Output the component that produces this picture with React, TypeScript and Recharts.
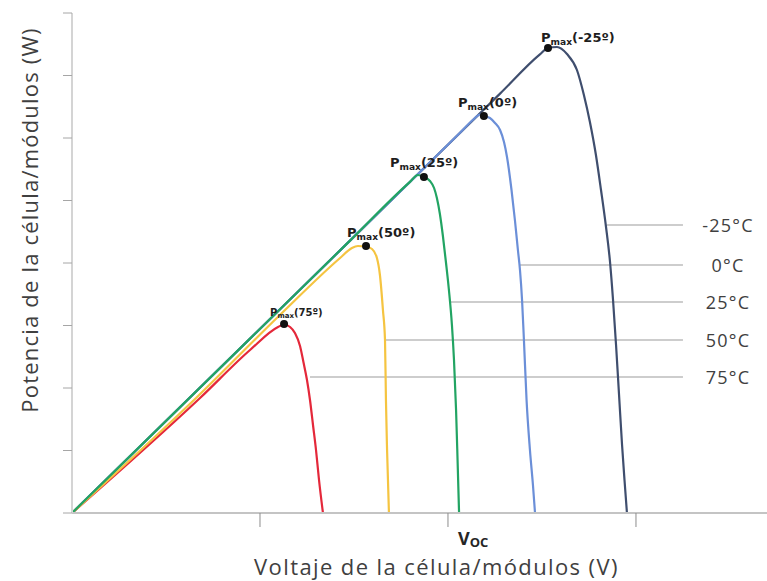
import React from 'react';
import { LineChart, Line, XAxis, YAxis, ReferenceLine, ReferenceDot } from 'recharts';

// Voltage (V, axis units) and power (W, axis units)
const voltM25 = [0, 1.479, 2.277, 2.489, 2.532, 2.58, 2.633, 2.686, 2.723, 2.755, 2.787, 2.814, 2.84, 2.862, 2.878, 2.894, 2.91, 2.926, 2.939, 2.952];
const powerM25 = [0, 4.358, 6.71, 7.338, 7.44, 7.456, 7.344, 7.088, 6.688, 6.256, 5.728, 5.168, 4.592, 4.016, 3.408, 2.688, 1.888, 1.088, 0.528, 0];

const volt0 = [0, 1.479, 2.064, 2.138, 2.17, 2.191, 2.223, 2.25, 2.277, 2.298, 2.314, 2.338, 2.356, 2.372, 2.383, 2.394, 2.404, 2.418, 2.436, 2.452, 2.463];
const power0 = [0, 4.358, 6.083, 6.304, 6.376, 6.352, 6.32, 6.24, 6.128, 5.936, 5.696, 5.168, 4.688, 4.208, 3.888, 3.408, 2.768, 1.808, 1.008, 0.448, 0];

const volt25 = [0, 0.947, 1.479, 1.798, 1.84, 1.872, 1.904, 1.926, 1.941, 1.957, 1.973, 1.989, 2.005, 2.021, 2.032, 2.043, 2.051, 2.059];
const power25 = [0, 2.79, 4.358, 5.299, 5.408, 5.376, 5.312, 5.2, 5.04, 4.784, 4.432, 4.016, 3.568, 3.008, 2.448, 1.648, 0.848, 0];

const volt50 = [0, 0.66, 1.106, 1.426, 1.489, 1.521, 1.564, 1.596, 1.622, 1.638, 1.654, 1.665, 1.67, 1.676, 1.686];
const power50 = [0, 1.84, 3.168, 4.08, 4.24, 4.272, 4.264, 4.224, 4.08, 3.808, 3.248, 2.768, 1.808, 1.008, 0];

const volt75 = [0, 0.681, 0.947, 1.096, 1.128, 1.16, 1.186, 1.213, 1.231, 1.25, 1.266, 1.282, 1.298, 1.314, 1.335];
const power75 = [0, 1.84, 2.608, 2.976, 3.016, 2.976, 2.88, 2.672, 2.416, 2.128, 1.808, 1.408, 1.008, 0.528, 0];

// Maximum power points
const pmaxNames = ['-25º', '0º', '25º', '50º', '75º'];
const pmaxVolt = [2.532, 2.191, 1.872, 1.564, 1.128];
const pmaxPower = [7.44, 6.352, 5.376, 4.272, 3.024];

// Temperature legend
const tempLabels = ['-25°C', '0°C', '25°C', '50°C', '75°C'];
const tempLineVolt = [2.846, 2.383, 2.013, 1.665, 1.266];
const tempLinePower = [4.608, 3.968, 3.376, 2.768, 2.176];
const tempLineEnd = 3.25;

const xTicks = [1, 2, 3];
const yTicks = [0, 1, 2, 3, 4, 5, 6, 7, 8];
const vocVolt = 2.17;

const xTitle = 'Voltaje de la célula/módulos (V)';
const yTitle = 'Potencia de la célula/módulos (W)';

const build = (v: number[], p: number[]) => v.map((x, i) => ({ v: x, p: p[i] }));

const series = [
  { key: 'm25', data: build(voltM25, powerM25), color: '#3f4e6e' },
  { key: 'c0', data: build(volt0, power0), color: '#6b8fd8' },
  { key: 'c75', data: build(volt75, power75), color: '#e4283a' },
  { key: 'c50', data: build(volt50, power50), color: '#f5c441' },
  { key: 'c25', data: build(volt25, power25), color: '#22a463' },
];

// label placement relative to each Pmax dot (px)
const pmaxLabelStyle = [
  { dx: -7, dy: -6, size: 13 },
  { dx: -26, dy: -9, size: 13 },
  { dx: -34, dy: -10, size: 13 },
  { dx: -19, dy: -9, size: 13 },
  { dx: -14, dy: -8, size: 10 },
];

const font = '"Open Sans", "Liberation Sans", sans-serif';

const PmaxLabel = (props: any) => {
  const vb = props.viewBox || {};
  const cx = vb.x + vb.width / 2;
  const cy = vb.y + vb.height / 2;
  const s = props.st;
  return (
    <text x={cx + s.dx} y={cy + s.dy} fontFamily='"DejaVu Sans", sans-serif' fontWeight="bold" fontSize={s.size} fill="#1e1e1e">
      <tspan>P</tspan>
      <tspan fontSize={s.size * 0.7} dy={s.size * 0.2}>max</tspan>
      <tspan dy={-s.size * 0.2}>{'(' + props.name + ')'}</tspan>
    </text>
  );
};

const TempLabel = (props: any) => {
  const vb = props.viewBox || {};
  return (
    <text x={vb.x + vb.width + 45} y={vb.y} textAnchor="middle" dominantBaseline="central" fontFamily={font} fontSize={18} letterSpacing={1.2} fill="#404040">
      {props.text}
    </text>
  );
};

const VocLabel = (props: any) => {
  const vb = props.viewBox || {};
  const cx = vb.x + vb.width / 2;
  const cy = vb.y + vb.height / 2;
  return (
    <text x={cx - 22} y={cy + 32} fontFamily={font} fontWeight="bold" fill="#262626">
      <tspan fontSize={18}>V</tspan>
      <tspan fontSize={13} dy={2}>OC</tspan>
    </text>
  );
};

const XTitle = (props: any) => {
  const vb = props.viewBox || {};
  return (
    <text x={vb.x + vb.width / 2 + 17} y={vb.y + 62} textAnchor="middle" fontFamily={font} fontSize={22} letterSpacing={1.4} fill="#404040">
      {xTitle}
    </text>
  );
};

const YTitle = (props: any) => {
  const vb = props.viewBox || {};
  const x = vb.x + 29;
  const y = vb.y + vb.height / 2 - 43;
  return (
    <text x={x} y={y} transform={`rotate(-90, ${x}, ${y})`} textAnchor="middle" dominantBaseline="central" fontFamily={font} fontSize={22} letterSpacing={1.2} fill="#404040">
      {yTitle}
    </text>
  );
};

export default function App() {
  return (
    <div style={{ position: 'absolute', left: 0, top: 0, width: 767, height: 581, background: '#fff' }}>
      <LineChart width={767} height={581} margin={{ top: 13, right: 0, bottom: 0, left: 0 }}>
        <XAxis
          type="number"
          dataKey="v"
          domain={[0, 3.697]}
          ticks={xTicks}
          tickFormatter={() => ''}
          tickSize={14}
          height={68}
          axisLine={{ stroke: '#c4c4c4', strokeWidth: 2 }}
          tickLine={{ stroke: '#8c8c8c', strokeWidth: 1 }}
          allowDataOverflow
          label={<XTitle />}
        />
        <YAxis
          type="number"
          domain={[0, 8]}
          ticks={yTicks}
          tickFormatter={() => ''}
          tickSize={9}
          width={72}
          axisLine={{ stroke: '#d4d4d4', strokeWidth: 2 }}
          tickLine={{ stroke: '#a6a6a6', strokeWidth: 1 }}
          allowDataOverflow
          label={<YTitle />}
        />
        {tempLabels.map((t, i) => (
          <ReferenceLine
            key={t}
            segment={[
              { x: tempLineVolt[i], y: tempLinePower[i] },
              { x: tempLineEnd, y: tempLinePower[i] },
            ]}
            stroke="#bdbdbd"
            strokeWidth={1.6}
            ifOverflow="visible"
            label={<TempLabel text={t} />}
          />
        ))}
        {series.map((s) => (
          <Line
            key={s.key}
            data={s.data}
            dataKey="p"
            type="monotone"
            stroke={s.color}
            strokeWidth={2.2}
            dot={false}
            activeDot={false}
            isAnimationActive={false}
          />
        ))}
        {pmaxNames.map((n, i) => (
          <ReferenceDot
            key={n}
            x={pmaxVolt[i]}
            y={pmaxPower[i]}
            r={4}
            fill="#111"
            stroke="none"
            ifOverflow="visible"
            label={<PmaxLabel name={n} st={pmaxLabelStyle[i]} />}
          />
        ))}
        <ReferenceDot
          x={vocVolt}
          y={0}
          r={0}
          fill="none"
          stroke="none"
          ifOverflow="visible"
          label={<VocLabel />}
        />
      </LineChart>
    </div>
  );
}
